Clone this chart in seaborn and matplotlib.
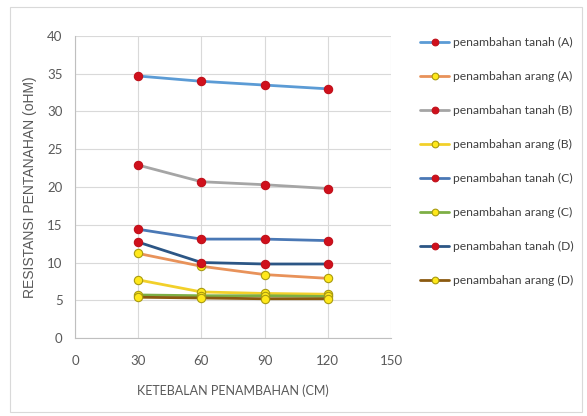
import matplotlib
matplotlib.use("Agg")
import matplotlib.pyplot as plt
import seaborn as sns
import pandas as pd
from matplotlib.patches import Rectangle

x_values = [30, 60, 90, 120]
labels = ["penambahan tanah (A)", "penambahan arang (A)", "penambahan tanah (B)",
          "penambahan arang (B)", "penambahan tanah (C)", "penambahan arang (C)",
          "penambahan tanah (D)", "penambahan arang (D)"]
tanah_a = [34.7, 34.0, 33.5, 33.0]
arang_a = [11.2, 9.5, 8.4, 7.9]
tanah_b = [22.9, 20.7, 20.3, 19.8]
arang_b = [7.7, 6.1, 5.9, 5.8]
tanah_c = [14.4, 13.1, 13.1, 12.9]
arang_c = [5.7, 5.6, 5.6, 5.5]
tanah_d = [12.7, 10.0, 9.8, 9.8]
arang_d = [5.4, 5.3, 5.2, 5.2]
series = [tanah_a, arang_a, tanah_b, arang_b, tanah_c, arang_c, tanah_d, arang_d]
line_colors = ["#5B9BD5", "#E8925A", "#A5A5A5", "#F2D02A", "#4A78B5", "#7DAF45", "#2C5685", "#8B5A10"]

sns.set_theme(style="white")
plt.rcParams["font.family"] = ["Lato", "DejaVu Sans"]

fig = plt.figure(figsize=(5.87, 4.16), dpi=100)
fig.patch.set_facecolor("white")
fig.add_artist(Rectangle((10/587, 4/416), 572/587, 405/416, transform=fig.transFigure,
                         fill=False, edgecolor="#D9D9D9", linewidth=0.8))
ax = fig.add_axes([75/587, 1-338/416, (391-75)/587, (338-36)/416])

for lab, vals, col in zip(labels, series, line_colors):
    df = pd.DataFrame({"x": x_values, "y": vals})
    tanah = "tanah" in lab
    sns.lineplot(data=df, x="x", y="y", ax=ax, color=col, linewidth=2.0,
                 marker="o", markersize=6,
                 markerfacecolor="#D0101C" if tanah else "#FFE81A",
                 markeredgecolor="#C0101A" if tanah else "#A89A10",
                 markeredgewidth=0.8, label=lab)

ax.set_xlim(0, 150)
ax.set_ylim(0, 40)
ax.set_xticks([0, 30, 60, 90, 120, 150])
ax.set_yticks(range(0, 41, 5))
ax.grid(True, color="#D9D9D9", linewidth=0.8)
for s in ["top", "right"]:
    ax.spines[s].set_visible(False)
for s in ["left", "bottom"]:
    ax.spines[s].set_color("#BFBFBF")
    ax.spines[s].set_linewidth(0.8)
ax.tick_params(axis="x", labelsize=9.5, colors="#595959", length=0, pad=12)
ax.tick_params(axis="y", labelsize=9.5, colors="#595959", length=0, pad=9)
ax.set_xlabel("KETEBALAN PENAMBAHAN (CM)", fontsize=9, color="#595959", labelpad=13)
ax.set_ylabel("RESISTANSI PENTANAHAN (oHM)", fontsize=10, color="#595959", labelpad=7,
              family=["Liberation Sans", "DejaVu Sans"])

leg = ax.legend(loc="upper left", bbox_to_anchor=(420/587, 1-37/416),
                bbox_transform=fig.transFigure, frameon=False, fontsize=8.7,
                labelspacing=1.9, handlelength=2.4, handletextpad=0.3,
                borderaxespad=0, borderpad=0, markerscale=0.8)
for t in leg.get_texts():
    t.set_color("#404040")

fig.savefig("out.png", dpi=100)
